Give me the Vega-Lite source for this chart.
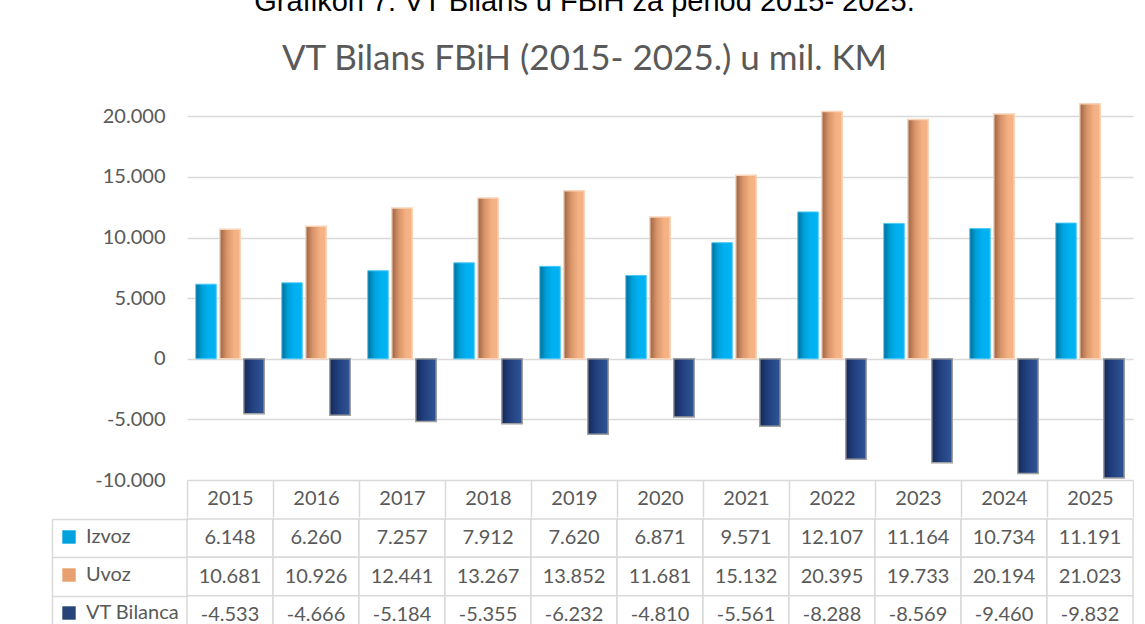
{
  "$schema": "https://vega.github.io/schema/vega-lite/v6.json",
  "padding": {"left": 51, "top": -12, "right": 0, "bottom": -8},
  "background": "white",
  "config": {
    "font": "Lato",
    "view": {"stroke": null},
    "locale": {"number": {"decimal": ",", "thousands": ".", "grouping": [3], "currency": ["", ""], "minus": "-"}}
  },
  "title": {
    "text": "Grafikon 7: VT Bilans u FBiH za period 2015- 2025.",
    "subtitle": "VT Bilans FBiH (2015- 2025.) u mil. KM",
    "font": "Liberation Sans",
    "fontSize": 29,
    "fontWeight": "normal",
    "color": "#000000",
    "subtitleFont": "Lato",
    "subtitleFontSize": 35,
    "subtitleColor": "#595959",
    "subtitlePadding": 25,
    "offset": 15,
    "anchor": "middle",
    "dx": -8
  },
  "datasets": {
    "d": [
      {"year": 2015, "series": "Izvoz", "value": 6148},
      {"year": 2016, "series": "Izvoz", "value": 6260},
      {"year": 2017, "series": "Izvoz", "value": 7257},
      {"year": 2018, "series": "Izvoz", "value": 7912},
      {"year": 2019, "series": "Izvoz", "value": 7620},
      {"year": 2020, "series": "Izvoz", "value": 6871},
      {"year": 2021, "series": "Izvoz", "value": 9571},
      {"year": 2022, "series": "Izvoz", "value": 12107},
      {"year": 2023, "series": "Izvoz", "value": 11164},
      {"year": 2024, "series": "Izvoz", "value": 10734},
      {"year": 2025, "series": "Izvoz", "value": 11191},
      {"year": 2015, "series": "Uvoz", "value": 10681},
      {"year": 2016, "series": "Uvoz", "value": 10926},
      {"year": 2017, "series": "Uvoz", "value": 12441},
      {"year": 2018, "series": "Uvoz", "value": 13267},
      {"year": 2019, "series": "Uvoz", "value": 13852},
      {"year": 2020, "series": "Uvoz", "value": 11681},
      {"year": 2021, "series": "Uvoz", "value": 15132},
      {"year": 2022, "series": "Uvoz", "value": 20395},
      {"year": 2023, "series": "Uvoz", "value": 19733},
      {"year": 2024, "series": "Uvoz", "value": 20194},
      {"year": 2025, "series": "Uvoz", "value": 21023},
      {"year": 2015, "series": "VT Bilanca", "value": -4533},
      {"year": 2016, "series": "VT Bilanca", "value": -4666},
      {"year": 2017, "series": "VT Bilanca", "value": -5184},
      {"year": 2018, "series": "VT Bilanca", "value": -5355},
      {"year": 2019, "series": "VT Bilanca", "value": -6232},
      {"year": 2020, "series": "VT Bilanca", "value": -4810},
      {"year": 2021, "series": "VT Bilanca", "value": -5561},
      {"year": 2022, "series": "VT Bilanca", "value": -8288},
      {"year": 2023, "series": "VT Bilanca", "value": -8569},
      {"year": 2024, "series": "VT Bilanca", "value": -9460},
      {"year": 2025, "series": "VT Bilanca", "value": -9832}
    ]
  },
  "spacing": 0,
  "resolve": {"scale": {"x": "independent", "y": "independent"}},
  "vconcat": [
    {
      "width": 946,
      "height": 388,
      "data": {"name": "d"},
      "encoding": {
        "x": {
          "field": "year", "type": "ordinal",
          "scale": {"paddingInner": 0, "paddingOuter": 0},
          "axis": {
            "title": null, "orient": "bottom", "domain": false, "ticks": true,
            "tickBand": "extent", "tickSize": 37, "tickColor": "#d9d9d9", "tickWidth": 1.5,
            "labelAngle": 0, "labelBaseline": "middle", "labelPadding": -18.5,
            "labelFontSize": 20, "labelColor": "#595959", "grid": false
          }
        },
        "xOffset": {
          "field": "series", "type": "nominal",
          "scale": {"domain": ["Izvoz", "Uvoz", "VT Bilanca"], "paddingInner": 0.146, "paddingOuter": 0.365}
        },
        "y": {
          "field": "value", "type": "quantitative",
          "scale": {"domain": [-10000, 22000], "nice": false},
          "axis": {
            "title": null, "values": [-10000, -5000, 0, 5000, 10000, 15000, 20000],
            "format": ",d", "grid": true, "gridColor": "#d9d9d9", "gridWidth": 1.5,
            "domain": false, "ticks": false, "labelPadding": 22,
            "labelFontSize": 20, "labelColor": "#595959"
          }
        }
      },
      "layer": [
        {
          "transform": [{"filter": "datum.series === 'Izvoz'"}],
          "mark": {
            "type": "bar",
            "fill": {"gradient": "linear", "x1": 0, "y1": 0, "x2": 1, "y2": 0,
              "stops": [{"offset": 0, "color": "#006f99"}, {"offset": 0.3, "color": "#009fd9"}, {"offset": 0.6, "color": "#00b0f0"}, {"offset": 1, "color": "#00b3f3"}]},
            "stroke": "#4cc8f5", "strokeWidth": 1
          }
        },
        {
          "transform": [{"filter": "datum.series === 'Uvoz'"}],
          "mark": {
            "type": "bar",
            "fill": {"gradient": "linear", "x1": 0, "y1": 0, "x2": 1, "y2": 0,
              "stops": [{"offset": 0, "color": "#9b6343"}, {"offset": 0.35, "color": "#d9956a"}, {"offset": 0.7, "color": "#f4b183"}, {"offset": 1, "color": "#f5b487"}]},
            "stroke": "#fad3b8", "strokeWidth": 1.5
          }
        },
        {
          "transform": [{"filter": "datum.series === 'VT Bilanca'"}],
          "mark": {
            "type": "bar",
            "fill": {"gradient": "linear", "x1": 0, "y1": 0, "x2": 1, "y2": 0,
              "stops": [{"offset": 0, "color": "#15295a"}, {"offset": 0.4, "color": "#223f7e"}, {"offset": 1, "color": "#2f5597"}]},
            "stroke": "#a0a0a0", "strokeWidth": 1.5
          }
        }
      ]
    },
    {
      "width": 946,
      "height": 115,
      "data": {"name": "d"},
      "encoding": {
        "x": {"field": "year", "type": "ordinal", "scale": {"paddingInner": 0, "paddingOuter": 0}, "axis": null},
        "y": {
          "field": "series", "type": "nominal",
          "scale": {"domain": ["Izvoz", "Uvoz", "VT Bilanca"], "paddingInner": 0, "paddingOuter": 0},
          "axis": {
            "title": null, "orient": "left", "offset": 135, "labels": false,
            "domain": true, "domainColor": "#d9d9d9", "domainWidth": 1.5,
            "ticks": true, "tickBand": "extent", "tickSize": -135, "tickColor": "#d9d9d9", "tickWidth": 1.5,
            "grid": false
          }
        }
      },
      "layer": [
        {
          "mark": {"type": "rect", "fill": "white", "stroke": "#d9d9d9", "strokeWidth": 1.5}
        },
        {
          "mark": {"type": "text", "fontSize": 20, "color": "#595959", "font": "Lato"},
          "encoding": {"text": {"field": "value", "type": "quantitative", "format": ",d"}}
        },
        {
          "mark": {"type": "point", "shape": "square", "opacity": 0, "filled": true},
          "encoding": {
            "color": {
              "field": "series", "type": "nominal",
              "scale": {"domain": ["Izvoz", "Uvoz", "VT Bilanca"], "range": ["#00a2de", "#e8a070", "#264478"]},
              "legend": {
                "orient": "none", "legendX": -128, "legendY": 435, "title": null,
                "direction": "vertical", "symbolType": "square", "symbolSize": 180,
                "symbolOpacity": 1, "symbolStrokeWidth": 0, "rowPadding": 18, "padding": 0,
                "labelFontSize": 20, "labelColor": "#595959", "labelOffset": 7, "labelFont": "Lato"
              }
            }
          }
        }
      ]
    }
  ]
}
